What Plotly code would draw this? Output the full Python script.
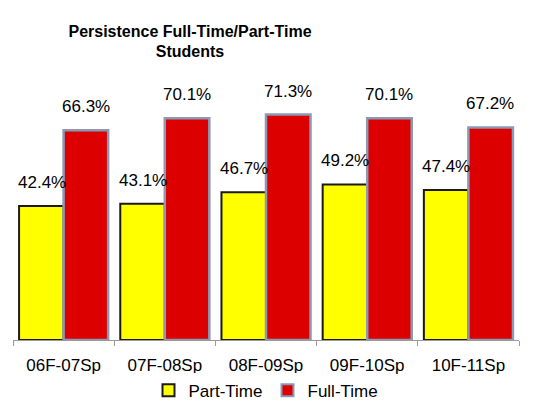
import plotly.graph_objects as go

terms = ["06F-07Sp", "07F-08Sp", "08F-09Sp", "09F-10Sp", "10F-11Sp"]
part_time = [42.4, 43.1, 46.7, 49.2, 47.4]
full_time = [66.3, 70.1, 71.3, 70.1, 67.2]

font_family = "Liberation Sans, Arial, sans-serif"

fig = go.Figure()

fig.add_trace(go.Bar(
    x=terms,
    y=part_time,
    name="Part-Time",
    marker=dict(color="#FFFF00", line=dict(color="#1A1A1A", width=2)),
))

fig.add_trace(go.Bar(
    x=terms,
    y=full_time,
    name="Full-Time",
    marker=dict(color="#DD0000", line=dict(color="#8A9AB5", width=2.5)),
))

# data labels, sitting a little above each bar like the Excel original
for series, shift in [(part_time, -22), (full_time, 22)]:
    for term, v in zip(terms, series):
        fig.add_annotation(
            x=term, y=v, xref="x", yref="y",
            text=f"{v:.1f}%", showarrow=False,
            xshift=shift, yshift=12, yanchor="bottom",
            font=dict(size=17, color="#000000"),
        )

fig.update_layout(
    width=538,
    height=406,
    margin=dict(l=13, r=19, t=87, b=66, autoexpand=False),
    paper_bgcolor="white",
    plot_bgcolor="white",
    font=dict(family=font_family, size=17, color="#000000"),
    title=dict(
        text="<b>Persistence Full-Time/Part-Time<br>Students</b>",
        x=190 / 538,
        xanchor="center",
        xref="container",
        y=0.91,
        yanchor="top",
        font=dict(size=16, color="#000000"),
    ),
    barmode="group",
    bargap=0.12,
    bargroupgap=0,
    showlegend=True,
    legend=dict(
        orientation="h",
        x=0.5,
        xanchor="center",
        y=-0.2,
        yanchor="middle",
        font=dict(size=17),
        itemsizing="constant",
    ),
    xaxis=dict(
        showline=True,
        linecolor="#9A9A9A",
        linewidth=1,
        ticks="outside",
        tickson="boundaries",
        tickcolor="#9A9A9A",
        ticklen=5,
        ticklabelstandoff=10,
        tickfont=dict(size=17),
        showgrid=False,
    ),
    yaxis=dict(
        range=[0, 80],
        visible=False,
        showgrid=False,
    ),
)

# drop the browser's default body margin so the figure sits at the top-left
fig.write_html("out.html", config={"displayModeBar": False},
               post_script="document.body.style.margin='0';")
